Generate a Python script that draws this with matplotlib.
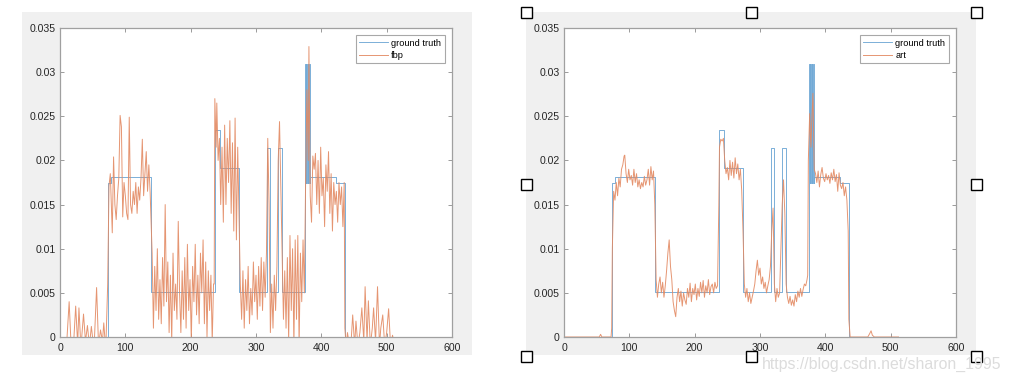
import matplotlib
matplotlib.use("Agg")
import matplotlib.pyplot as plt
from matplotlib.patches import Rectangle

plt.rcParams["font.family"] = ["Liberation Sans", "DejaVu Sans"]

# ground truth: step levels (value holds from x until next x)
gt_x = [1, 74, 78, 139, 238, 245, 274, 317, 322, 333, 340, 375, 376, 377, 378, 379, 380,
        381, 382, 383, 422, 436, 512]
gt_y = [0, 0.0174, 0.0181, 0.0051, 0.0234, 0.0191, 0.0051, 0.0214, 0.0051, 0.0214, 0.0051,
        0.0309, 0.0175, 0.0309, 0.0175, 0.0309, 0.0175, 0.0309, 0.0175, 0.0181, 0.0174, 0, 0]

# fbp reconstruction (vertices)
fbp_x = [1, 10, 14, 17, 21, 24, 27, 29, 32, 36, 39, 42, 45, 48, 52, 56, 59, 62, 65, 67, 70, 73,
         75, 77, 80, 82, 84, 86, 88, 90, 92, 94, 96, 98, 100, 102, 104, 106, 108, 110, 112, 114,
         116, 118, 120, 122, 124, 126, 128, 130, 132, 134, 136, 138, 140,
         141, 143, 145, 147, 149, 151, 153, 155, 157, 159, 161, 163, 165, 167, 169, 171, 173, 175,
         177, 179, 181, 183, 185, 187, 189, 191, 193, 195, 197, 199, 201, 203, 205, 207, 209, 211,
         213, 215, 217, 219, 221, 223, 225, 227, 229, 231, 233, 235, 236,
         237, 239, 240, 242, 244, 246, 248, 250, 252, 254, 256, 258, 260, 262, 264, 266, 268, 270,
         272, 274, 276,
         278, 280, 282, 284, 286, 288, 290, 292, 294, 296, 298, 300, 302, 304, 306, 308, 310, 312,
         314, 316, 318, 320, 322, 324, 326, 328, 330, 332, 334, 336, 338, 340,
         342, 344, 346, 348, 350, 352, 354, 356, 358, 360, 362, 364, 366, 368, 370, 372,
         374, 376, 378, 380, 381, 382, 383,
         385, 387, 389, 391, 393, 395, 397, 399, 401, 403, 405, 407, 409, 411, 413, 415, 417, 419,
         421, 423, 425, 427, 429, 431, 433, 435, 436,
         438, 440, 443, 446, 448, 451, 453, 456, 459, 462, 465, 467, 470, 472, 475, 478, 480, 483,
         486, 489, 491, 494, 497, 500, 503, 506, 509, 512]
fbp_y = [-0.002, -0.001, 0.0040, -0.001, -0.0005, 0.0035, -0.0008, 0.0033, -0.0012, 0.0026,
         -0.0005, 0.0013, -0.001, 0.0012, -0.0015, 0.0056, -0.001, 0.0008, -0.0005, 0.0016,
         -0.0015, 0.006,
         0.0171, 0.0185, 0.0118, 0.0204, 0.0150, 0.0133, 0.0160, 0.0180, 0.0251, 0.0238, 0.0136,
         0.0175, 0.0160, 0.0140, 0.0133, 0.0249, 0.0150, 0.0140, 0.0165, 0.0150, 0.0175, 0.0140,
         0.0170, 0.0155, 0.0180, 0.0224, 0.0160, 0.0185, 0.0210, 0.0165, 0.0195, 0.0163, 0.0120,
         0.0095, 0.0010, 0.0080, 0.0030, 0.0100, 0.0020, 0.0065, 0.0015, 0.0090, 0.0035, 0.0150,
         0.0040, 0.0085, 0.0005, 0.0070, -0.0005, 0.0095, 0.0030, 0.0060, 0.0020, 0.0131, 0.0050,
         0.0005, 0.0075, 0.0020, 0.0090, 0.0010, 0.0105, 0.0030, 0.0065, -0.0005, 0.0080, 0.0040,
         0.0105, 0.0025, 0.0070, 0.0015, 0.0095, 0.0050, 0.0110, 0.0015, 0.0085, 0.0000, 0.0075,
         0.0030, 0.0070, -0.0005, 0.0060, 0.0060,
         0.0270, 0.0215, 0.0265, 0.0200, 0.0225, 0.0150, 0.0215, 0.0130, 0.0240, 0.0150, 0.0225,
         0.0175, 0.0245, 0.0140, 0.0220, 0.0120, 0.0248, 0.0110, 0.0215, 0.0140, 0.0060,
         0.0020, 0.0075, 0.0010, 0.0065, 0.0030, 0.0080, 0.0015, 0.0055, 0.0025, 0.0085, 0.0040,
         0.0070, 0.0020, 0.0080, 0.0035, 0.0090, 0.0030, 0.0085, 0.0045, 0.0095,
         0.0225, 0.0150, 0.0005, 0.0060, 0.0010, 0.0070, 0.0030, 0.0080, 0.0200, 0.0244, 0.0170,
         0.0090,
         0.0020, 0.0075, 0.0010, 0.0090, -0.0005, 0.0115, 0.0030, 0.0100, -0.0010, 0.0110, 0.0020,
         0.0115, -0.0010, 0.0095, 0.0040, 0.0110,
         0.0050, 0.0180, 0.0280, 0.0200, 0.0329, 0.0240, 0.0160,
         0.0130, 0.0205, 0.0190, 0.0208, 0.0150, 0.0200, 0.0140, 0.0215, 0.0160, 0.0180, 0.0125,
         0.0195, 0.0165, 0.0210, 0.0140, 0.0185, 0.0120, 0.0175, 0.0150, 0.0165, 0.0130, 0.0175,
         0.0150, 0.0170, 0.0125, 0.0175, 0.0010,
         -0.0010, 0.0005, -0.001, 0.0000, 0.0025, -0.0010, 0.0018, -0.0010, 0.0005, 0.0033,
         -0.0005, 0.0057, -0.0005, 0.0041, -0.0010, 0.0010, 0.0033, -0.0005, 0.0057, -0.0010,
         0.0010, 0.0025, -0.0010, 0.0005, 0.0032, -0.0010, 0.0002, -0.0010]

# art reconstruction (vertices)
art_x = [1, 54, 56, 58, 72, 73,
         74, 76, 78, 80, 82, 84, 86, 88, 90, 92, 93, 95, 97, 99, 101, 103, 105, 107, 109, 111,
         113, 115, 117, 119, 121, 123, 125, 127, 129, 131, 133, 135, 137, 139,
         141, 143, 145, 147, 149, 151, 153, 155, 157, 159, 161, 163, 165, 167, 169, 171, 173, 175,
         177, 179, 181, 183, 185, 187, 189, 191, 193, 195, 197, 199, 201, 203, 205, 207, 209, 211,
         213, 215, 217, 219, 221, 223, 225, 227, 229, 231, 233, 235, 237,
         238, 240, 242, 244, 246, 248, 250, 252, 254, 256, 258, 260, 262, 264, 266, 268, 270, 272,
         274, 276,
         278, 280, 282, 284, 286, 288, 290, 292, 294, 296, 298, 300, 302, 304, 306, 308, 310, 312,
         314, 316, 318, 320, 322, 324, 326, 328, 330, 332, 334, 336, 338, 340,
         342, 344, 346, 348, 350, 352, 354, 356, 358, 360, 362, 364, 366, 368, 370, 372,
         373, 374, 376, 377, 378, 379, 381, 382, 383,
         385, 387, 389, 391, 393, 395, 397, 399, 401, 403, 405, 407, 409, 411, 413, 415, 417, 419,
         421, 423, 425, 427, 429, 431, 433, 435, 436,
         438, 465, 468, 470, 472, 475, 512]
art_y = [0, 0, 0.0003, 0, 0, 0.0010,
         0.0100, 0.0165, 0.0155, 0.0175, 0.0160, 0.0180, 0.0170, 0.0190, 0.0195, 0.0205, 0.0206,
         0.0185, 0.0175, 0.0190, 0.0178, 0.0183, 0.0172, 0.0190, 0.0175, 0.0185, 0.0170, 0.0178,
         0.0168, 0.0175, 0.0170, 0.0182, 0.0172, 0.0178, 0.0190, 0.0172, 0.0193, 0.0178, 0.0188,
         0.0150,
         0.0065, 0.0045, 0.0060, 0.0068, 0.0050, 0.0062, 0.0045, 0.0058, 0.0075, 0.0095, 0.0110,
         0.0080, 0.0065, 0.0040, 0.0030, 0.0023, 0.0045, 0.0055, 0.0040, 0.0052, 0.0035, 0.0050,
         0.0042, 0.0037, 0.0055, 0.0045, 0.0061, 0.0040, 0.0055, 0.0048, 0.0060, 0.0042, 0.0055,
         0.0046, 0.0062, 0.0050, 0.0064, 0.0045, 0.0058, 0.0050, 0.0065, 0.0048, 0.0057, 0.0060,
         0.0050, 0.0062, 0.0055, 0.0058, 0.0150,
         0.0215, 0.0224, 0.0222, 0.0225, 0.0200, 0.0185, 0.0192, 0.0178, 0.0200, 0.0183, 0.0198,
         0.0180, 0.0203, 0.0185, 0.0196, 0.0178, 0.0190, 0.0166, 0.0120, 0.0060,
         0.0045, 0.0055, 0.0040, 0.0050, 0.0038, 0.0045, 0.0052, 0.0060, 0.0075, 0.0087, 0.0070,
         0.0078, 0.0060, 0.0068, 0.0055, 0.0062, 0.0050, 0.0058, 0.0065, 0.0080,
         0.0120, 0.0146, 0.0060, 0.0040, 0.0055, 0.0045, 0.0050, 0.0100, 0.0150, 0.0178, 0.0140,
         0.0060,
         0.0045, 0.0038, 0.0046, 0.0036, 0.0042, 0.0035, 0.0048, 0.0040, 0.0052, 0.0045, 0.0055,
         0.0046, 0.0054, 0.0060, 0.0058, 0.0065,
         0.0070, 0.0200, 0.0253, 0.0230, 0.0215, 0.0240, 0.0276, 0.0230, 0.0190,
         0.0185, 0.0175, 0.0188, 0.0170, 0.0184, 0.0192, 0.0180, 0.0176, 0.0185, 0.0178, 0.0183,
         0.0174, 0.0186, 0.0178, 0.0190, 0.0176, 0.0184, 0.0165, 0.0186, 0.0172, 0.0168, 0.0175,
         0.0160, 0.0170, 0.0155, 0.0120, 0.0020,
         0, 0, 0.0004, 0.0007, 0.0002, 0, 0]

W, H = 1010, 382
C_GT = "#72aad6"
C_REC = "#e38a63"
GRAY_BG = "#f0f0f0"

fig = plt.figure(figsize=(W / 100, H / 100), dpi=100)
fig.patch.set_facecolor("white")


def px_rect(x0, y0, x1, y1):
    return [x0 / W, 1 - y1 / H, (x1 - x0) / W, (y1 - y0) / H]


for x0 in (22, 526):
    fig.patches.append(Rectangle((x0 / W, 1 - 355 / H), 450 / W, 343 / H,
                                 transform=fig.transFigure, facecolor=GRAY_BG,
                                 edgecolor="none", zorder=-5))

panels = [(60, fbp_x, fbp_y, "fbp"), (564, art_x, art_y, "art")]
for left, rx, ry, name in panels:
    ax = fig.add_axes(px_rect(left, 28, left + 392, 337))
    ax.set_zorder(1)
    ax.plot(gt_x, gt_y, drawstyle="steps-post", color=C_GT, lw=0.65, label="ground truth")
    ax.plot(rx, ry, color=C_REC, lw=0.7, alpha=0.9, label=name)
    ax.set_xlim(0, 600)
    ax.set_ylim(0, 0.035)
    ax.set_xticks(range(0, 601, 100))
    ax.set_yticks([0, 0.005, 0.01, 0.015, 0.02, 0.025, 0.03, 0.035])
    ax.set_yticklabels(["0", "0.005", "0.01", "0.015", "0.02", "0.025", "0.03", "0.035"])
    ax.tick_params(direction="in", length=3, width=0.6, color="#8a8a8a", labelsize=7.6,
                   labelcolor="#262626", top=True, right=True)
    ax.tick_params(axis="x", pad=4)
    ax.tick_params(axis="y", pad=3)
    for s in ax.spines.values():
        s.set_color("#a0a0a0")
        s.set_linewidth(0.9)
    leg = ax.legend(loc="upper right", fontsize=6.7, handlelength=3.1, handletextpad=0.35,
                    labelspacing=0.35, borderpad=0.35, borderaxespad=0.8, fancybox=False,
                    framealpha=1, edgecolor="#a8a8a8")
    leg.get_frame().set_linewidth(0.8)

# selection handles around the right figure
for cx in (526, 751, 976):
    for cy in (12, 184, 356):
        if cx == 751 and cy == 184:
            continue
        fig.patches.append(Rectangle(((cx - 5.5) / W, 1 - (cy + 5.5) / H), 11 / W, 11 / H,
                                     transform=fig.transFigure, facecolor="white",
                                     edgecolor="black", lw=1.0, zorder=10))

fig.text(762 / W, 1 - 364 / H, "https://blog.csdn.net/sharon_1995", fontsize=11.4,
         color="#dcdcdc", ha="left", va="center", zorder=11)

fig.savefig("out.png", dpi=100)
